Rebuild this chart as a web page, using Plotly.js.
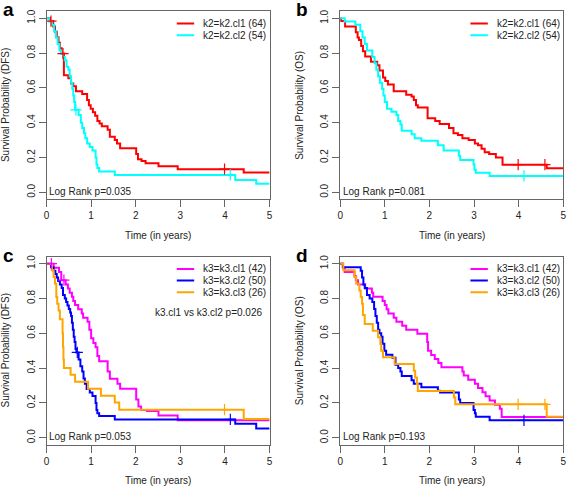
<!DOCTYPE html>
<html>
<head>
<meta charset="utf-8">
<script src="https://cdn.plot.ly/plotly-3.0.1.min.js"></script>
<style>html,body{margin:0;padding:0;background:#fff;}#chart{width:567px;height:487px;}</style>
</head>
<body>
<div id="chart"></div>
<script>
// ---------- data ----------
const X_TICKS = [0, 1, 2, 3, 4, 5];
const Y_TICKS = [0, 0.2, 0.4, 0.6, 0.8, 1.0];
const Y_TICK_TEXT = ['0.0', '0.2', '0.4', '0.6', '0.8', '1.0'];

const PANEL_LETTERS = ['a', 'b', 'c', 'd'];
const Y_TITLES = ['Survival Probability (DFS)', 'Survival Probability (OS)', 'Survival Probability (DFS)', 'Survival Probability (OS)'];
const X_TITLE = 'Time (in years)';
const LOGRANK = ['Log Rank p=0.035', 'Log Rank p=0.081', 'Log Rank p=0.053', 'Log Rank p=0.193'];
const PAIR_NOTE = 'k3.cl1 vs k3.cl2 p=0.026';

const K2_NAMES = ['k2=k2.cl1 (64)', 'k2=k2.cl2 (54)'];
const K3_NAMES = ['k3=k3.cl1 (42)', 'k3=k3.cl2 (50)', 'k3=k3.cl3 (26)'];

// Panel a (DFS, k2)
const A1_T = [0, 0.08, 0.15, 0.19, 0.23, 0.27, 0.3, 0.34, 0.39, 0.49, 0.55, 0.6, 0.66, 0.8, 0.91, 0.95, 0.99, 1.04, 1.09, 1.14, 1.19, 1.24, 1.37, 1.42, 1.53, 1.58, 1.65, 2.01, 2.05, 2.13, 2.22, 2.51, 2.94, 4.42, 5];
const A1_S = [1, 0.984, 0.953, 0.922, 0.891, 0.859, 0.828, 0.797, 0.672, 0.656, 0.625, 0.609, 0.58, 0.565, 0.53, 0.5, 0.48, 0.46, 0.44, 0.41, 0.395, 0.38, 0.36, 0.32, 0.30, 0.28, 0.253, 0.22, 0.19, 0.18, 0.167, 0.15, 0.133, 0.114, 0.114];
const A1_CT = [0.1, 0.37, 3.99];
const A1_CS = [0.984, 0.797, 0.133];
const A2_T = [0, 0.06, 0.12, 0.17, 0.21, 0.25, 0.29, 0.33, 0.37, 0.41, 0.45, 0.49, 0.52, 0.55, 0.58, 0.6, 0.62, 0.64, 0.72, 0.77, 0.8, 0.84, 0.87, 0.91, 0.97, 1.03, 1.1, 1.12, 1.14, 1.18, 1.53, 4.23, 4.7, 5];
const A2_S = [1, 0.981, 0.963, 0.926, 0.889, 0.852, 0.815, 0.796, 0.778, 0.759, 0.722, 0.704, 0.667, 0.63, 0.593, 0.556, 0.519, 0.474, 0.444, 0.40, 0.37, 0.34, 0.31, 0.28, 0.26, 0.24, 0.2, 0.16, 0.14, 0.119, 0.1, 0.071, 0.05, 0.05];
const A2_CT = [0.66, 4.12];
const A2_CS = [0.474, 0.1];

// Panel b (OS, k2)
const B1_T = [0, 0.02, 0.11, 0.35, 0.39, 0.42, 0.47, 0.51, 0.56, 0.69, 0.83, 0.88, 0.96, 1.01, 1.07, 1.2, 1.48, 1.6, 1.65, 1.7, 1.74, 1.96, 2.13, 2.23, 2.44, 2.54, 2.64, 2.74, 2.88, 3.02, 3.09, 3.17, 3.24, 3.34, 3.49, 3.64, 4.63, 5];
const B1_S = [1, 0.984, 0.953, 0.92, 0.89, 0.875, 0.84, 0.81, 0.78, 0.75, 0.73, 0.70, 0.66, 0.64, 0.62, 0.58, 0.56, 0.55, 0.53, 0.50, 0.487, 0.425, 0.41, 0.393, 0.37, 0.34, 0.33, 0.31, 0.30, 0.28, 0.27, 0.25, 0.23, 0.22, 0.20, 0.159, 0.138, 0.138];
const B1_CT = [3.99, 4.59];
const B1_CS = [0.159, 0.159];
const B2_T = [0, 0.1, 0.34, 0.45, 0.5, 0.55, 0.6, 0.72, 0.77, 0.81, 0.85, 0.89, 0.94, 0.97, 1.0, 1.05, 1.15, 1.26, 1.3, 1.35, 1.38, 1.6, 1.67, 1.82, 2.19, 2.32, 2.66, 2.69, 2.99, 3.01, 3.04, 3.35, 5];
const B2_S = [1, 0.981, 0.963, 0.926, 0.889, 0.852, 0.815, 0.778, 0.741, 0.704, 0.667, 0.63, 0.593, 0.556, 0.519, 0.48, 0.463, 0.444, 0.41, 0.39, 0.354, 0.333, 0.31, 0.296, 0.27, 0.24, 0.21, 0.186, 0.16, 0.13, 0.113, 0.094, 0.094];
const B2_CT = [4.12];
const B2_CS = [0.094];

// Panel c (DFS, k3)
const C1_T = [0, 0.16, 0.28, 0.33, 0.43, 0.48, 0.52, 0.57, 0.6, 0.64, 0.71, 0.79, 0.82, 0.92, 0.96, 1.0, 1.05, 1.1, 1.14, 1.18, 1.37, 1.42, 1.59, 1.65, 2.01, 2.06, 2.12, 2.25, 2.51, 2.94, 5];
const C1_S = [1, 0.976, 0.952, 0.905, 0.881, 0.857, 0.833, 0.81, 0.786, 0.762, 0.738, 0.714, 0.69, 0.666, 0.62, 0.571, 0.544, 0.52, 0.47, 0.439, 0.38, 0.339, 0.31, 0.282, 0.22, 0.18, 0.16, 0.153, 0.128, 0.10, 0.10];
const C1_CT = [0.11, 0.39];
const C1_CS = [1.0, 0.905];
const C2_T = [0, 0.1, 0.16, 0.2, 0.23, 0.26, 0.3, 0.34, 0.37, 0.41, 0.44, 0.47, 0.5, 0.53, 0.55, 0.57, 0.59, 0.61, 0.63, 0.65, 0.67, 0.72, 0.76, 0.8, 0.83, 0.86, 0.9, 0.97, 1.03, 1.1, 1.12, 1.14, 1.18, 1.53, 4.23, 4.7, 5];
const C2_S = [1, 0.98, 0.96, 0.94, 0.92, 0.90, 0.88, 0.86, 0.82, 0.80, 0.78, 0.76, 0.74, 0.72, 0.70, 0.66, 0.62, 0.58, 0.55, 0.51, 0.49, 0.45, 0.41, 0.38, 0.34, 0.31, 0.28, 0.26, 0.24, 0.20, 0.16, 0.14, 0.125, 0.105, 0.08, 0.053, 0.053];
const C2_CT = [0.69, 4.12];
const C2_CS = [0.49, 0.105];
const C3_T = [0, 0.12, 0.16, 0.19, 0.22, 0.24, 0.27, 0.3, 0.36, 0.37, 0.38, 0.39, 0.54, 0.64, 0.93, 1.22, 1.53, 1.63, 4.42, 5];
const C3_S = [1, 0.962, 0.923, 0.885, 0.808, 0.769, 0.731, 0.68, 0.6, 0.52, 0.45, 0.40, 0.362, 0.322, 0.282, 0.241, 0.203, 0.161, 0.107, 0.107];
const C3_CT = [3.99];
const C3_CS = [0.161];

// Panel d (OS, k3)
const D1_T = [0, 0.06, 0.1, 0.32, 0.35, 0.4, 0.56, 0.71, 0.74, 0.95, 1.0, 1.04, 1.08, 1.2, 1.26, 1.39, 1.48, 1.73, 1.95, 1.97, 2.04, 2.12, 2.2, 2.27, 2.74, 2.77, 2.87, 3.02, 3.09, 3.19, 3.26, 3.35, 3.47, 3.58, 3.62, 5];
const D1_S = [1, 0.976, 0.952, 0.929, 0.905, 0.881, 0.857, 0.833, 0.81, 0.786, 0.762, 0.738, 0.714, 0.69, 0.667, 0.643, 0.62, 0.597, 0.55, 0.50, 0.476, 0.452, 0.43, 0.405, 0.381, 0.357, 0.333, 0.31, 0.286, 0.262, 0.238, 0.214, 0.19, 0.167, 0.119, 0.119];
const D1_CT = [];
const D1_CS = [];
const D2_T = [0, 0.06, 0.46, 0.49, 0.52, 0.55, 0.6, 0.66, 0.72, 0.76, 0.79, 0.82, 0.85, 0.88, 0.92, 0.95, 0.99, 1.03, 1.17, 1.24, 1.3, 1.35, 1.38, 1.6, 1.65, 1.82, 2.19, 2.24, 2.66, 2.69, 2.99, 3.02, 3.04, 3.35, 5];
const D2_S = [1, 0.98, 0.96, 0.92, 0.88, 0.86, 0.82, 0.80, 0.78, 0.74, 0.70, 0.66, 0.62, 0.60, 0.58, 0.54, 0.50, 0.477, 0.46, 0.42, 0.40, 0.38, 0.355, 0.33, 0.31, 0.29, 0.27, 0.26, 0.22, 0.20, 0.16, 0.14, 0.12, 0.10, 0.10];
const D2_CT = [4.12];
const D2_CS = [0.10];
const D3_T = [0, 0.07, 0.32, 0.36, 0.43, 0.46, 0.49, 0.51, 0.55, 0.73, 0.85, 0.9, 0.92, 0.96, 1.22, 1.65, 1.68, 1.72, 1.74, 2.55, 2.58, 4.63, 5];
const D3_S = [1, 0.962, 0.923, 0.885, 0.846, 0.808, 0.769, 0.705, 0.654, 0.615, 0.577, 0.538, 0.5, 0.462, 0.423, 0.385, 0.346, 0.308, 0.269, 0.231, 0.192, 0.12, 0.12];
const D3_CT = [3.99, 4.59];
const D3_CS = [0.192, 0.192];

// ---------- styling ----------
const FONT = 'Liberation Sans, Arial, Helvetica, sans-serif';
const TXT = '#222';
const AXC = '#666';
const K2_COLORS = ['#FF0000', '#00FFFF'];
const K3_COLORS = ['#FF00FF', '#0000FF', '#FFA500'];

const W = 567, H = 487;
// pixel geometry of the four plot boxes [left, right, top, bottom]
const BOX = [
  [46.5, 269.6, 11.3, 199.3],
  [340.2, 563.2, 11.3, 199.3],
  [46.5, 269.6, 256.7, 444.7],
  [340.2, 563.2, 256.7, 444.7]
];
const AX = ['', '2', '3', '4'];

const panels = [
  {curves: [[A1_T, A1_S, A1_CT, A1_CS], [A2_T, A2_S, A2_CT, A2_CS]], colors: K2_COLORS, names: K2_NAMES},
  {curves: [[B1_T, B1_S, B1_CT, B1_CS], [B2_T, B2_S, B2_CT, B2_CS]], colors: K2_COLORS, names: K2_NAMES},
  {curves: [[C1_T, C1_S, C1_CT, C1_CS], [C2_T, C2_S, C2_CT, C2_CS], [C3_T, C3_S, C3_CT, C3_CS]], colors: K3_COLORS, names: K3_NAMES},
  {curves: [[D1_T, D1_S, D1_CT, D1_CS], [D2_T, D2_S, D2_CT, D2_CS], [D3_T, D3_S, D3_CT, D3_CS]], colors: K3_COLORS, names: K3_NAMES}
];

const traces = [];
const shapes = [];
const annotations = [];
const layout = {
  width: W, height: H,
  margin: {l: 0, r: 0, t: 0, b: 0},
  paper_bgcolor: '#fff', plot_bgcolor: '#fff',
  showlegend: false,
  font: {family: FONT, size: 10, color: TXT},
  shapes: shapes, annotations: annotations
};

panels.forEach((p, i) => {
  const xa = 'x' + AX[i], ya = 'y' + AX[i];
  const b = BOX[i];
  layout['xaxis' + AX[i]] = {
    domain: [b[0] / W, b[1] / W], anchor: ya, range: [0, 5],
    tickvals: X_TICKS, ticktext: X_TICKS.map(String),
    ticks: 'outside', ticklen: 7, tickcolor: AXC, tickwidth: 1,
    showline: true, mirror: true, linecolor: AXC, linewidth: 1,
    showgrid: false, zeroline: false, fixedrange: true,
    tickfont: {family: FONT, size: 10, color: TXT}
  };
  layout['yaxis' + AX[i]] = {
    domain: [1 - b[3] / H, 1 - b[2] / H], anchor: xa, range: [-0.04, 1.04],
    tickvals: Y_TICKS, ticktext: Y_TICK_TEXT, tickangle: -90,
    ticks: 'outside', ticklen: 7, tickcolor: AXC, tickwidth: 1,
    showline: true, mirror: true, linecolor: AXC, linewidth: 1,
    showgrid: false, zeroline: false, fixedrange: true,
    tickfont: {family: FONT, size: 10, color: TXT}
  };

  p.curves.forEach((c, k) => {
    traces.push({x: c[0], y: c[1], type: 'scatter', mode: 'lines', xaxis: xa, yaxis: ya,
      line: {shape: 'hv', color: p.colors[k], width: 2}, hoverinfo: 'skip', name: p.names[k]});
  });
  p.curves.forEach((c, k) => {
    if (c[2].length) traces.push({x: c[2], y: c[3], type: 'scatter', mode: 'markers', xaxis: xa, yaxis: ya,
      marker: {symbol: 'cross-thin', size: 8, color: p.colors[k], line: {color: p.colors[k], width: 1.2}},
      hoverinfo: 'skip', showlegend: false});
  });

  // legend (line sample + label)
  const rows = [0.97, 0.903, 0.836];
  p.names.forEach((nm, k) => {
    shapes.push({type: 'line', xref: xa, yref: ya, x0: 2.92, x1: 3.31, y0: rows[k], y1: rows[k],
      line: {color: p.colors[k], width: 2}});
    annotations.push({xref: xa, yref: ya, x: 3.47, y: rows[k], text: nm, showarrow: false,
      xanchor: 'left', yanchor: 'middle', font: {family: FONT, size: 10, color: TXT}});
  });

  // log-rank text
  annotations.push({xref: xa, yref: ya, x: 0.02, y: 0.005, text: LOGRANK[i], showarrow: false,
    xanchor: 'left', yanchor: 'middle', font: {family: FONT, size: 10, color: TXT}});

  // axis titles
  annotations.push({xref: 'paper', yref: 'paper', x: (b[0] - 40.7) / W, y: 1 - ((b[2] + b[3]) / 2) / H,
    text: Y_TITLES[i], textangle: -90, showarrow: false, xanchor: 'center', yanchor: 'middle',
    font: {family: FONT, size: 10, color: TXT}});
  annotations.push({xref: 'paper', yref: 'paper', x: ((b[0] + b[1]) / 2) / W, y: 1 - (b[3] + 35.7) / H,
    text: X_TITLE, showarrow: false, xanchor: 'center', yanchor: 'middle',
    font: {family: FONT, size: 10, color: TXT}});

  // panel letter
  annotations.push({xref: 'paper', yref: 'paper', x: (b[0] - 38) / W, y: 1 - (b[2] - 1.5) / H,
    text: '<b>' + PANEL_LETTERS[i] + '</b>', showarrow: false, xanchor: 'center', yanchor: 'middle',
    font: {family: FONT, size: 19, color: '#000'}});
});

annotations.push({xref: 'x3', yref: 'y3', x: 4.88, y: 0.722, text: PAIR_NOTE, showarrow: false,
  xanchor: 'right', yanchor: 'middle', font: {family: FONT, size: 10, color: TXT}});

Plotly.newPlot('chart', traces, layout, {staticPlot: true, displayModeBar: false});
</script>
</body>
</html>
